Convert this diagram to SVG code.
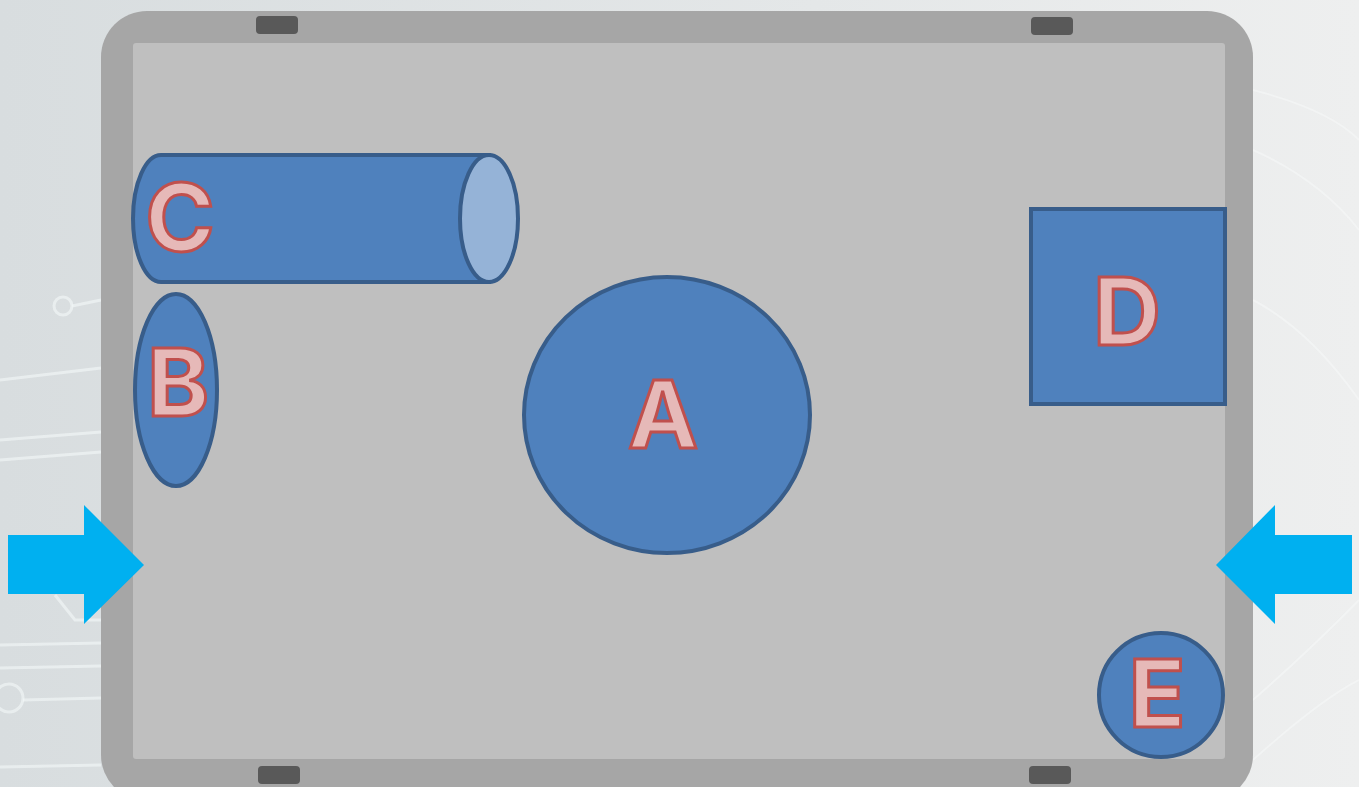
<svg xmlns="http://www.w3.org/2000/svg" width="1359" height="787" viewBox="0 0 1359 787">
<defs>
<linearGradient id="bg" x1="0" y1="0" x2="1" y2="0">
<stop offset="0" stop-color="#d8dddf"/>
<stop offset="0.6" stop-color="#e4e7e8"/>
<stop offset="1" stop-color="#eeefef"/>
</linearGradient>
<style>
.shape{fill:#4f81bd;stroke:#385d8a;stroke-width:4}
.lbl{font-family:Inter,"Liberation Sans",sans-serif;font-weight:700;font-size:94px;fill:#e6b9b8;stroke:#c0504d;stroke-width:3;text-anchor:middle}
.tab{fill:#595959}
.arrow{fill:#00b0f0}
.deco{fill:none;stroke:#f4f8f8;stroke-width:3;opacity:0.6}
.deco2{fill:none;stroke:#f7fafa;stroke-width:2;opacity:0.5}
</style>
</defs>
<rect x="0" y="0" width="1359" height="787" fill="url(#bg)"/>
<g id="background-pattern">
<path class="deco" d="M0 380 L101 368 M0 440 L101 432 M0 460 L101 452 M0 645 L101 643 M0 668 L101 666 M0 767 L101 765"/>
<circle class="deco" cx="63" cy="306" r="9"/>
<path class="deco" d="M72 306 L101 300"/>
<circle class="deco" cx="9" cy="698" r="14"/>
<path class="deco" d="M23 700 L101 698"/>
<path class="deco" d="M55 595 L75 620 L101 620"/>
<path class="deco2" d="M1253 90 Q1330 110 1359 140 M1253 150 Q1320 180 1359 230 M1253 300 Q1310 330 1359 400 M1253 700 Q1310 650 1359 600 M1253 760 Q1320 700 1359 680"/>
</g>
<g id="frame">
<rect x="101" y="11" width="1152" height="790" rx="46" fill="#a6a6a6"/>
<rect x="133" y="43" width="1092" height="716" rx="3" fill="#bfbfbf"/>
<rect class="tab" x="256" y="16" width="42" height="18" rx="4"/>
<rect class="tab" x="1031" y="17" width="42" height="18" rx="4"/>
<rect class="tab" x="258" y="766" width="42" height="18" rx="4"/>
<rect class="tab" x="1029" y="766" width="42" height="18" rx="4"/>
</g>
<g id="connectors">
<polygon class="arrow" points="8,535 84,535 84,505 144,565 84,624 84,594 8,594"/>
<polygon class="arrow" points="1352,535 1275,535 1275,505 1216,565 1275,624 1275,594 1352,594"/>
</g>
<g id="node-C">
<path class="shape" d="M161 155 L489 155 L489 282 L161 282 A28 63.5 0 0 1 161 155 Z"/>
<ellipse cx="489" cy="218.5" rx="29" ry="63.5" fill="#95b3d7" stroke="#385d8a" stroke-width="4"/>
<text class="lbl" x="180" y="251">C</text>
</g>
<g id="node-B">
<ellipse class="shape" cx="176" cy="390" rx="41" ry="96"/>
<text class="lbl" x="178" y="416">B</text>
</g>
<g id="node-A">
<ellipse class="shape" cx="667" cy="415" rx="143" ry="138"/>
<text class="lbl" x="663" y="448">A</text>
</g>
<g id="node-D">
<rect class="shape" x="1031" y="209" width="194" height="195"/>
<text class="lbl" x="1127" y="345">D</text>
</g>
<g id="node-E">
<circle class="shape" cx="1161" cy="695" r="62"/>
<text class="lbl" x="1157" y="727">E</text>
</g>
</svg>
